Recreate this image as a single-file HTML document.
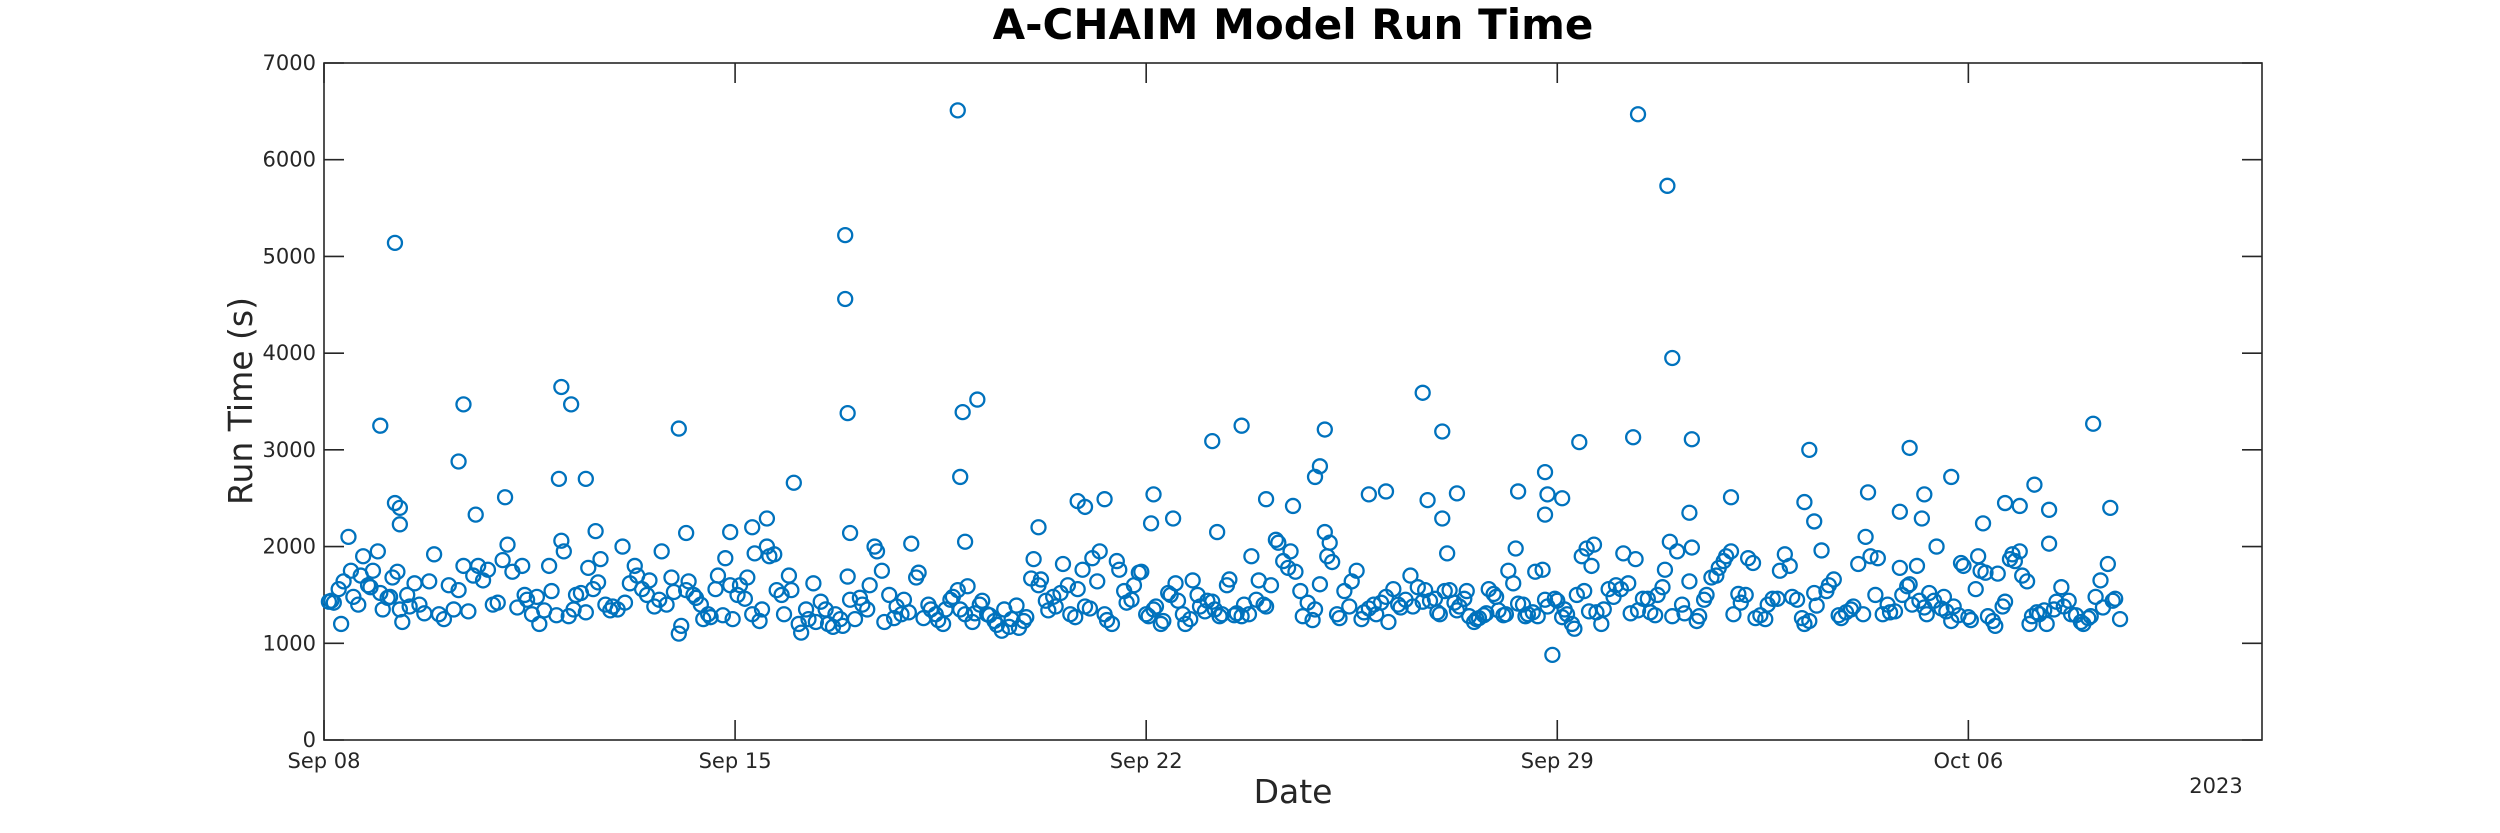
<!DOCTYPE html>
<html><head><meta charset="utf-8"><style>
html,body{margin:0;padding:0;background:#fff;}
svg{display:block;font-family:"DejaVu Sans","Liberation Sans",sans-serif;}
</style></head><body>
<svg id="chart" width="2500" height="833" viewBox="0 0 2500 833" xmlns="http://www.w3.org/2000/svg">
<rect width="2500" height="833" fill="#fff"/>
<text x="1293" y="39" text-anchor="middle" font-size="42" font-weight="bold" fill="#000">A-CHAIM Model Run Time</text>
<text x="0" y="0" transform="translate(252,401) rotate(-90)" text-anchor="middle" font-size="33" fill="#262626">Run Time (s)</text>
<text x="1293" y="803" text-anchor="middle" font-size="33" fill="#262626">Date</text>
<text x="2216" y="793" text-anchor="middle" font-size="21" fill="#262626">2023</text>
<g id="axes"></g>
<g id="points"></g>
</svg>
<script>
const xTickLabels = ["Sep 08","Sep 15","Sep 22","Sep 29","Oct 06"];
const xTickDays = [0,7,14,21,28];
const yTickValues = [0,1000,2000,3000,4000,5000,6000,7000];
// hours since Sep 08 00:00
const bulkHours = [2,3,4,6,7,8,10,11,12,14,15,16,18,19,20,22,23,24,26,27,28,30,31,32,34,35,
37,39,41,43,45,47,49,51,53,55,57,59,61,63,65,67,69,71,73,75,77,79,81,82,
83,85,87,88,90,92,93,95,97,98,100,102,103,105,107,108,110,112,113,115,117,118,120,122,123,125,127,128,130,132,133,135,137,138,140,
142,143,145,146,148,149,151,152,154,155,157,158,160,161,163,164,166,167,169,170,172,173,175,176,178,179,181,182,184,185,187,188,190,191,
194,195,197,198,200,201,203,205,206,208,209,211,212,214,215,217,219,220,222,223,225,226,228,229,231,233,234,236,237,239,240,242,243,245,247,248,250,251,253,254,256,257,
259,260,262,263,265,266,268,269,271,272,274,275,277,278,280,281,283,284,286,287,289,290,292,293,295,296,298,299,301,302,304,305,307,308,310,311,313,314,316,317,319,320,322,
324,325,327,328,330,331,333,334,336,337,339,340,342,343,345,346,348,349,351,352,354,355,357,358,360,361,363,364,366,367,369,370,372,373,375,376,378,379,381,382,384,385,387,
389,390,392,394,395,397,399,400,402,404,405,407,409,410,412,414,415,417,419,420,422,424,425,427,429,430,432,434,435,437,439,440,442,444,445,447,449,450,452,
454,455,456,458,459,460,462,463,464,466,467,468,470,471,472,474,475,476,478,479,480,482,483,484,486,487,488,490,491,492,494,495,496,498,499,500,502,503,504,506,507,508,510,511,512,514,515,516,517,518,
519,520,522,523,525,527,528,530,531,533,534,536,537,539,541,542,544,545,547,548,550,551,553,555,556,558,559,561,562,564,565,567,569,570,572,573,575,576,578,579,581,582,
584,585,587,589,590,592,594,595,597,599,600,602,604,605,607,609,610,612,614,615,617,619,620,622,624,625,627,629,630,632,634,635,637,639,640,642,644,645,647,
648,649,651,652,654,655,656,658,659,661,662,663,665,666,668,669,670,672,673,675,676,677,679,680,682,683,684,686,687,689,690,691,693,694,696,697,698,700,701,703,704,705,707,708,710,711,
713,714,716,718,719,721,722,724,726,727,729,731,732,734];
const bulkRunTimes = [1430,1440,1420,1560,1200,1640,2100,1750,1480,1400,1700,1900,1600,1580,1750,1950,1520,1350,1470,1480,1680,1740,1350,1220,1500,1380,
1620,1400,1310,1640,1920,1300,1250,1600,1350,1550,1800,1330,1700,1800,1650,1760,1400,1420,1860,2020,1740,1370,1800,1500,
1450,1300,1480,1200,1340,1800,1540,1290,2060,1950,1280,1350,1500,1520,1320,1780,1560,1630,1870,1400,1340,1380,1350,2000,1420,1620,1800,1700,1560,1500,1650,1380,1450,1950,1400,
1680,1530,1100,1180,1550,1640,1500,1470,1400,1250,1300,1270,1560,1700,1290,1880,1600,1250,1500,1600,1460,1680,1300,1930,1230,1350,2000,1900,1920,1550,1500,1300,1700,1550,
1200,1110,1350,1250,1620,1220,1430,1350,1200,1170,1300,1250,1180,1690,1450,1250,1470,1400,1350,1600,2000,1950,1750,1220,1500,1260,1380,1300,1450,1320,2030,1680,1730,1260,1400,1350,1300,1240,1200,1350,1450,1480,
1550,1350,1300,1590,1220,1310,1400,1440,1300,1290,1230,1190,1130,1350,1170,1250,1390,1160,1230,1270,1670,1870,1600,1660,1440,1340,1480,1380,1520,1820,1600,1300,1270,1560,1760,1380,1360,1880,1640,1950,1300,1240,1200,
1850,1760,1540,1420,1450,1600,1730,1740,1300,1280,1350,1380,1200,1230,1520,1500,1620,1440,1300,1200,1250,1650,1500,1380,1330,1440,1430,1350,1280,1300,1600,1660,1290,1310,1280,1400,1300,1900,1450,1650,1400,1380,1600,
2070,2040,1850,1780,1950,1740,1540,1280,1420,1240,1350,1610,2150,1900,1840,1300,1260,1540,1380,1640,1750,1250,1320,1360,1400,1300,1420,1480,1220,1560,1400,1370,1450,1700,1380,1580,1430,1550,1440,
1460,1320,1300,1540,1930,1550,1420,1340,1380,1460,1540,1280,1220,1250,1260,1290,1310,1560,1510,1480,1340,1290,1300,1750,1620,1980,1410,1400,1280,1300,1320,1740,1280,1760,1450,1380,880,1460,1440,1270,1350,1300,1200,1150,1500,1900,1540,1980,1330,1800,
2020,1320,1200,1350,1560,1480,1600,1560,1930,1620,1310,1870,1340,1460,1460,1320,1290,1500,1580,1760,2050,1280,1950,1400,1310,1640,1990,1230,1280,1450,1500,1680,1700,1780,1850,1900,1950,1300,1510,1420,1500,1880,
1830,1260,1290,1250,1400,1460,1460,1750,1920,1800,1480,1450,1260,1200,1230,1520,1390,1960,1540,1600,1660,1290,1260,1320,1350,1380,1820,1300,2100,1900,1500,1880,1300,1400,1320,1330,1780,1500,1590,
1610,1400,1800,1440,1370,1300,1520,1440,2000,1360,1480,1330,1230,1380,1290,1830,1800,1270,1240,1560,1900,1750,1730,1280,1230,1180,1720,1380,1430,1870,1920,1850,1950,1700,1640,1200,1280,1320,1300,1340,1200,2030,1350,1430,1580,1380,
1440,1300,1290,1220,1200,1260,1280,1480,1650,1370,1820,1440,1460,1250];
const outlierHours = [23,29,29,31,31,57,55,62,74,96,97,101,107,111,145,148,166,175,181,192,213,213,214,215,259,260,261,262,267,292,308,311,319,339,347,338,363,365,375,385,396,405,407,409,411,427,434,449,451,457,463,457,488,499,500,499,506,513,535,537,549,551,559,558,575,605,607,609,631,644,648,654,653,665,678,687,693,699,705,723,730];
const outlierRunTimes = [3250,5140,2450,2400,2230,3470,2880,2330,2510,2700,3650,3470,2700,2160,3220,2140,2150,2200,2290,2660,5220,4560,3380,2140,6510,2720,3390,2050,3520,2200,2470,2410,2490,2540,2290,2240,3090,2150,3250,2490,2420,2720,2830,3210,2040,2540,2570,3590,2480,3190,2550,2290,2570,2770,2540,2330,2500,3080,3130,6470,5730,3950,3110,2350,2510,2460,3000,2260,2560,2360,3020,2540,2290,2720,2240,2450,2420,2640,2380,3270,2400];

const L=324,R=2262,T=63,B=740,DAYS=33,YMAX=7000;
const xs = d => L + d/DAYS*(R-L);
const ys = v => B - v/YMAX*(B-T);
const NS="http://www.w3.org/2000/svg";
const axes=document.getElementById('axes');
const pts=document.getElementById('points');
function mk(tag,attrs,parent){const e=document.createElementNS(NS,tag);for(const k in attrs)e.setAttribute(k,attrs[k]);parent.appendChild(e);return e;}

const frame=mk('rect',{x:L,y:T,width:R-L,height:B-T,fill:'none',stroke:'#262626','stroke-width':1.6},axes);



yTickValues.forEach(v=>{
  const y=ys(v);
  const t1=mk('line',{x1:L,x2:L+20,y1:y,y2:y,stroke:'#262626','stroke-width':1.6},axes);
  
  
  const t2=mk('line',{x1:R-20,x2:R,y1:y,y2:y,stroke:'#262626','stroke-width':1.6},axes);
  
  
  const lb=mk('text',{x:L-8,y:y+7,'text-anchor':'end','font-size':21,fill:'#262626'},axes);
  lb.textContent=String(v);
  
  
});
xTickDays.forEach((d,i)=>{
  const x=xs(d);
  const t1=mk('line',{x1:x,x2:x,y1:B,y2:B-20,stroke:'#262626','stroke-width':1.6},axes);
  
  
  const t2=mk('line',{x1:x,x2:x,y1:T,y2:T+20,stroke:'#262626','stroke-width':1.6},axes);
  
  
  const lb=mk('text',{x:x,y:B+28,'text-anchor':'middle','font-size':21,fill:'#262626'},axes);
  lb.textContent=xTickLabels[i];
  
  
});

function plot(hours,vals){
  hours.forEach((h,i)=>{
    const c=mk('circle',{cx:xs(h/24),cy:ys(vals[i]),r:7,fill:'none',stroke:'#0072BD','stroke-width':2.3},pts);
    
    
  });
}
plot(bulkHours,bulkRunTimes);
plot(outlierHours,outlierRunTimes);
</script>
</body></html>
